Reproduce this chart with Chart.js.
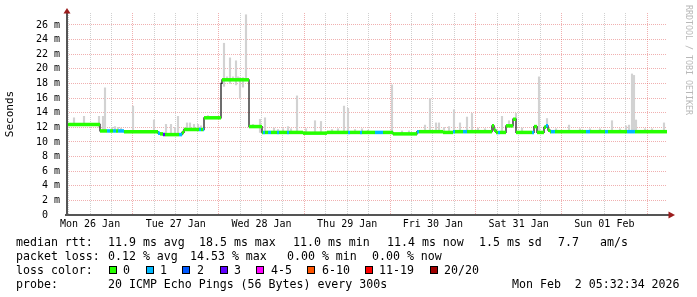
<!DOCTYPE html>
<html><head><meta charset="utf-8">
<script src="https://cdn.jsdelivr.net/npm/chart.js@4.4.1/dist/chart.umd.min.js"></script>
<style>
html,body{margin:0;padding:0;background:#fff;}
#wrap{position:relative;width:697px;height:297px;overflow:hidden;background:#fff;}
canvas{position:absolute;left:0;top:0;}
.t{position:absolute;font-family:'DejaVu Sans Mono',monospace;font-size:11.6px;line-height:12px;white-space:pre;color:#000;}
.box{position:absolute;width:6px;height:6px;border:1px solid #000;}
</style></head><body>
<div id="wrap"><canvas id="c" width="697" height="297"></canvas><div id="foot"></div></div>
<script>
// ---- time axis: hours since Mon 26 Jan 05:32:34 (graph covers 168 h) ----
const X_MAX = 168;
const firstGridHour = 0.4572;          // Mon 26 Jan 06:00
const gridStepHours = 6;
const dayLabels = ['Mon 26 Jan','Tue 27 Jan','Wed 28 Jan','Thu 29 Jan','Fri 30 Jan','Sat 31 Jan','Sun 01 Feb'];
const yMax = 27.64;
const yGridValues = [0,1,2,3,4,5,6,7,8,9,10,11,12,13,14,15,16,17,18,19,20,21,22,23,24,25,26,27];
const yLabelValues = [0,2,4,6,8,10,12,14,16,18,20,22,24,26];

// ---- median rtt (ms), as runs: start hour, value, lost pings ----
const runStartHours = [0,9.24,11.2,12.04,12.88,13.72,14.28,15.96,25.48,26.04,26.88,27.44,31.36,32.2,32.76,36.96,37.52,38.08,38.36,43.12,43.4,50.96,54.6,54.88,55.44,56.28,57.12,58.8,59.36,61.6,62.16,66.08,72.8,78.68,79.24,82.04,82.6,86.24,88.48,91.28,98,98.56,105.28,108.08,108.64,110.88,112,119,119.56,120.12,120.68,121.24,122.92,124.88,125.72,130.2,130.76,131.6,133.56,134.12,134.68,135.24,135.52,136.64,145.32,146.44,150.64,151.48,156.8,159.04];
const runMedianMs   = [12.4,11.5,11.5,11.5,11.5,11.5,11.5,11.4,11.2,11.1,11.0,11.0,11.0,11.3,11.7,11.7,11.7,11.7,13.3,18.0,18.5,12.1,11.3,11.3,11.3,11.3,11.3,11.3,11.3,11.3,11.3,11.2,11.3,11.3,11.3,11.3,11.3,11.3,11.3,11.1,11.4,11.4,11.3,11.4,11.4,11.4,11.4,12.2,11.6,11.3,11.3,11.3,12.2,13.1,11.3,11.3,12.1,11.3,12.0,12.2,11.6,11.4,11.4,11.4,11.4,11.4,11.4,11.4,11.4,11.4];
const runLossCount  = [0,0,1,0,1,0,1,0,1,0,3,0,1,0,0,1,0,1,0,1,0,0,0,1,0,1,0,1,0,1,0,0,0,1,0,1,0,1,0,0,1,0,0,1,0,1,0,0,0,0,1,0,0,0,0,1,0,0,0,1,0,0,1,0,1,0,1,0,1,0];

// ---- smoke (ping spread, ms) ----
const smokeHours  = [1.96,4.76,8.96,10.08,10.64,12.6,13.44,14.28,15.12,18.48,24.36,27.72,29.12,30.24,31.08,33.6,34.44,35.56,36.68,37.52,39.48,43.96,44.8,45.64,46.48,47.32,47.88,48.44,49.28,50.12,52.08,54.04,55.44,57.96,59.08,60.48,61.88,62.72,64.4,66.92,69.44,71.12,74.2,75.88,77.56,78.68,80.64,82.6,84.28,91,93.8,95.76,100.24,101.64,103.32,104.16,105.56,106.96,108.36,110.04,112,113.4,115.08,117.04,121.8,123.76,125.72,127.4,132.16,134.4,136.92,140.56,143.64,146.44,149.24,152.6,154.84,156.52,157.36,158.2,158.76,159.32,161.84,163.8,167.16];
const smokeLowMs  = [12.4,12.4,12.0,11.5,11.5,11.5,11.5,11.5,11.5,11.4,11.4,11.0,11.0,11.0,11.0,11.7,11.7,11.7,11.7,11.7,13.3,17.6,18.5,18.0,18.5,17.8,18.5,16.0,17.5,18.5,12.1,11.3,11.3,11.3,11.3,11.3,11.3,11.3,11.3,11.2,11.2,11.2,11.3,11.3,11.3,11.3,11.3,11.3,11.3,11.1,11.1,11.1,11.4,11.4,11.4,11.4,11.3,11.3,11.4,11.4,11.4,11.4,11.3,11.3,11.3,12.2,13.1,11.3,11.3,12.0,11.4,11.4,11.4,11.4,11.4,11.4,11.4,11.4,11.4,11.4,11.4,11.4,11.4,11.4,11.4];
const smokeHighMs = [13.3,13.5,13.5,13.5,17.4,12.0,12.1,12.0,11.9,14.9,13.0,12.4,12.4,12.0,13.5,12.6,12.6,12.4,12.4,12.2,13.6,23.5,18.9,21.5,18.9,21.1,18.9,18.8,18.8,27.4,12.4,13.1,13.3,11.9,11.7,11.8,12.1,11.8,16.3,11.8,12.9,12.8,11.7,11.8,14.9,14.6,11.7,11.8,11.6,17.8,11.5,11.5,12.3,15.9,12.6,12.6,12.0,12.1,14.4,12.6,13.4,13.9,11.9,11.8,13.5,12.9,13.9,11.9,18.9,13.2,11.8,12.3,11.8,11.8,11.8,12.9,11.8,12.2,12.3,19.3,19.1,13.0,11.8,11.8,12.6];

const lossLegendLabels = ['0','1','2','3','4-5','6-10','11-19','20/20'];
const lossLegendColors = ['#26ff00','#00b8ff','#0059ff','#5e00ff','#ff00ff','#ff5500','#ff0000','#a00000'];
function lossColor(n){ if(n<=0) return lossLegendColors[0]; if(n===1) return lossLegendColors[1]; if(n===2) return lossLegendColors[2]; if(n===3) return lossLegendColors[3]; if(n<=5) return lossLegendColors[4]; if(n<=10) return lossLegendColors[5]; if(n<=19) return lossLegendColors[6]; return lossLegendColors[7]; }

// ---- build datasets ----
const gridHours = [];
for (let h = firstGridHour; h <= X_MAX; h += gridStepHours) gridHours.push(h);

const medianPts = runStartHours.map((h,i)=>({x:h, y:runMedianMs[i]}));
medianPts.push({x:X_MAX, y:runMedianMs[runMedianMs.length-1]});
const bandPts = [];
runStartHours.forEach((h,i)=>{
  const end = i+1 < runStartHours.length ? runStartHours[i+1] : X_MAX;
  bandPts.push({x:h, y:runMedianMs[i]});
  bandPts.push({x:end, y:runMedianMs[i]});
});
const smokePts = smokeHours.map((h,i)=>({x:h, y:[smokeLowMs[i], smokeHighMs[i]]}));

const GRID = 'rgba(143,143,143,0.42)';
const MGRID = 'rgba(222,79,79,0.45)';
const FONT = "'DejaVu Sans Mono', monospace";
Chart.defaults.font.family = FONT;

const axesPlugin = {
  id:'axes',
  afterDatasetsDraw(chart){
    const ctx = chart.ctx, a = chart.chartArea;
    ctx.save();
    ctx.strokeStyle = '#555'; ctx.lineWidth = 2;
    ctx.beginPath(); ctx.moveTo(a.left, a.bottom); ctx.lineTo(a.left, a.top); ctx.stroke();
    ctx.beginPath(); ctx.moveTo(a.left-2, a.bottom); ctx.lineTo(a.right+2, a.bottom); ctx.stroke();
    ctx.fillStyle = '#9b1c1c';
    ctx.beginPath(); ctx.moveTo(a.left, a.top-5); ctx.lineTo(a.left-3.5, a.top+0.5); ctx.lineTo(a.left+3.5, a.top+0.5); ctx.closePath(); ctx.fill();
    ctx.beginPath(); ctx.moveTo(a.right+8, a.bottom); ctx.lineTo(a.right+1.5, a.bottom-3.5); ctx.lineTo(a.right+1.5, a.bottom+3.5); ctx.closePath(); ctx.fill();
    // watermark
    ctx.translate(688, 5); ctx.rotate(Math.PI/2);
    ctx.fillStyle = '#b8b8b8'; ctx.font = "8.3px " + FONT; ctx.textBaseline = 'middle'; ctx.textAlign = 'left';
    ctx.fillText('RRDTOOL / TOBI OETIKER', 0, 0);
    ctx.restore();
  }
};

new Chart(document.getElementById('c'), {
  type:'line',
  data:{datasets:[
    {type:'line', data:bandPts, order:0, borderWidth:3.5, borderCapStyle:'butt', pointRadius:0, fill:false,
     borderColor:'#26ff00',
     segment:{borderColor: c => (c.p0DataIndex % 2 === 1) ? 'rgba(0,0,0,0)' : lossColor(runLossCount[c.p0DataIndex>>1])}},
    {type:'line', data:medianPts, order:1, stepped:'before', borderColor:'#202020', borderWidth:1.3, pointRadius:0, fill:false},
    {type:'bar', data:smokePts, order:2, backgroundColor:'#d2d2d2', borderWidth:0, barThickness:1.5, grouped:false}
  ]},
  options:{
    responsive:false, animation:false, devicePixelRatio:1, events:[],
    layout:{padding:{left:0,right:30,top:13,bottom:62}},
    plugins:{legend:{display:false}, tooltip:{enabled:false}},
    scales:{
      x:{type:'linear', min:0, max:X_MAX, offset:false,
        afterBuildTicks: s => { s.ticks = gridHours.map(v=>({value:v})); },
        afterFit: s => { s.height = 20; },
        grid:{offset:false, drawTicks:false, lineWidth:1, color: c => (c.index % 4 === 3) ? MGRID : GRID},
        border:{display:false, dash:[1,1]},
        ticks:{autoSkip:false, maxRotation:0, minRotation:0, padding:3, color:'#000', font:{size:10},
          callback:(v,i) => (i % 4 === 1) ? (dayLabels[(i-1)/4] || '') : ''}
      },
      y:{type:'linear', min:0, max:yMax, position:'left',
        afterBuildTicks: s => { s.ticks = yGridValues.map(v=>({value:v})); },
        afterFit: s => { s.width = 67; },
        grid:{drawTicks:false, lineWidth:1, color: c => (c.tick && yLabelValues.includes(c.tick.value)) ? MGRID : GRID},
        border:{display:false, dash:[1,1]},
        ticks:{padding:7, color:'#000', font:{size:10},
          callback: v => yLabelValues.includes(v) ? (v === 0 ? '0  ' : v + ' m') : ''},
        title:{display:true, text:'Seconds', color:'#000', font:{size:11}, padding:{top:4,bottom:0}}
      }
    }
  },
  plugins:[axesPlugin]
});

// ---- footer legend (real text) ----
const foot = document.getElementById('foot');
function txt(s, x, cy){ const d=document.createElement('div'); d.className='t'; d.textContent=s; d.style.left=x+'px'; d.style.top=(cy-6)+'px'; foot.appendChild(d); }
const row1 = [['median rtt:',16],['11.9 ms avg',108],['18.5 ms max',199],['11.0 ms min',293],['11.4 ms now',387],['1.5 ms sd',479],['7.7',558],['am/s',600]];
const row2 = [['packet loss:',16],['0.12 % avg',108],['14.53 % max',190],['0.00 % min',287],['0.00 % now',372]];
const row4 = [['probe:',16],['20 ICMP Echo Pings (56 Bytes) every 300s',108],['Mon Feb  2 05:32:34 2026',512]];
row1.forEach(r=>txt(r[0], r[1], 241.5));
row2.forEach(r=>txt(r[0], r[1], 255.5));
txt('loss color:', 16, 269.5);
const boxX = [109,146,182,220,256,307,365,430];
const lblX = [123,160,197,234,271,322,379,444];
lossLegendLabels.forEach((l,i)=>{
  const b=document.createElement('div'); b.className='box'; b.style.left=boxX[i]+'px'; b.style.top='265.5px'; b.style.background=lossLegendColors[i]; foot.appendChild(b);
  txt(l, lblX[i], 269.5);
});
row4.forEach(r=>txt(r[0], r[1], 283.5));
</script>
</body></html>
